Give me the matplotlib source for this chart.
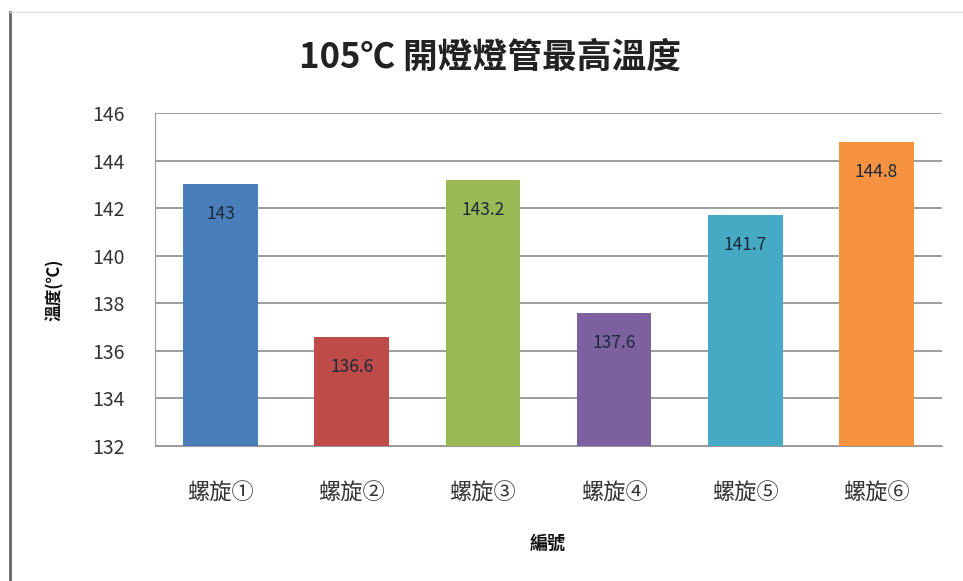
import numpy as np
import matplotlib.pyplot as plt
from matplotlib.lines import Line2D

plt.rcParams['font.family'] = ['Noto Sans CJK TC', 'DejaVu Sans']

# 各組螺旋燈管的最高溫度
categories = ['螺旋①', '螺旋②', '螺旋③', '螺旋④', '螺旋⑤', '螺旋⑥']
temps = [143, 136.6, 143.2, 137.6, 141.7, 144.8]
labels = ['143', '136.6', '143.2', '137.6', '141.7', '144.8']
colors = ['#4a7ebb', '#be4b48', '#98b954', '#7d60a0', '#46aac5', '#f69240']
yticks = [132, 134, 136, 138, 140, 142, 144, 146]

fig = plt.figure(figsize=(9.63, 5.81), dpi=100)
ax = fig.add_axes([155 / 963, 1 - 446 / 581, 787 / 963, 333 / 581])

x = np.arange(len(categories))
bars = ax.bar(x, temps, width=0.57, color=colors, zorder=3)

# 數值標籤放在柱內靠頂端
for b, lab in zip(bars, labels):
    ax.annotate(lab, (b.get_x() + b.get_width() / 2, b.get_height()),
                xytext=(0, -30), textcoords='offset pixels',
                ha='center', va='center', fontsize=12.5, color='#1a2a3a', zorder=4)

ax.set_ylim(132, 146)
ax.set_xlim(-0.5, len(categories) - 0.5)
ax.set_yticks(yticks)
ax.set_yticklabels([str(t) for t in yticks], fontsize=14, color='#333333')
ax.set_xticks(x)
ax.set_xticklabels(categories, fontsize=16, color='#333333')
ax.tick_params(axis='x', length=0, pad=26)
ax.tick_params(axis='y', length=0, pad=22)
ax.yaxis.grid(True, color='#8c8c8c', linewidth=1.2, zorder=0)

for side in ['top', 'right']:
    ax.spines[side].set_visible(False)
ax.spines['left'].set_color('#9a9a9a')
ax.spines['bottom'].set_color('#9a9a9a')

fig.text(490 / 963, 1 - 57 / 581, '105℃ 開燈燈管最高溫度', ha='center', va='center',
         fontsize=25, fontweight='bold', color='#222222')
fig.text(55 / 963, 1 - 290 / 581, '溫度(℃)', ha='center', va='center', rotation=90,
         fontsize=12, fontweight='bold', color='#111111')
fig.text(548 / 963, 1 - 543 / 581, '編號', ha='center', va='center',
         fontsize=13, fontweight='bold', color='#111111')

# 外框線
fig.add_artist(Line2D([10 / 963, 10 / 963], [0, 1 - 12 / 581], color='#666666', linewidth=2))
fig.add_artist(Line2D([10 / 963, 1], [1 - 12 / 581, 1 - 12 / 581], color='#dddddd', linewidth=1))

fig.savefig('out.png', dpi=100)
